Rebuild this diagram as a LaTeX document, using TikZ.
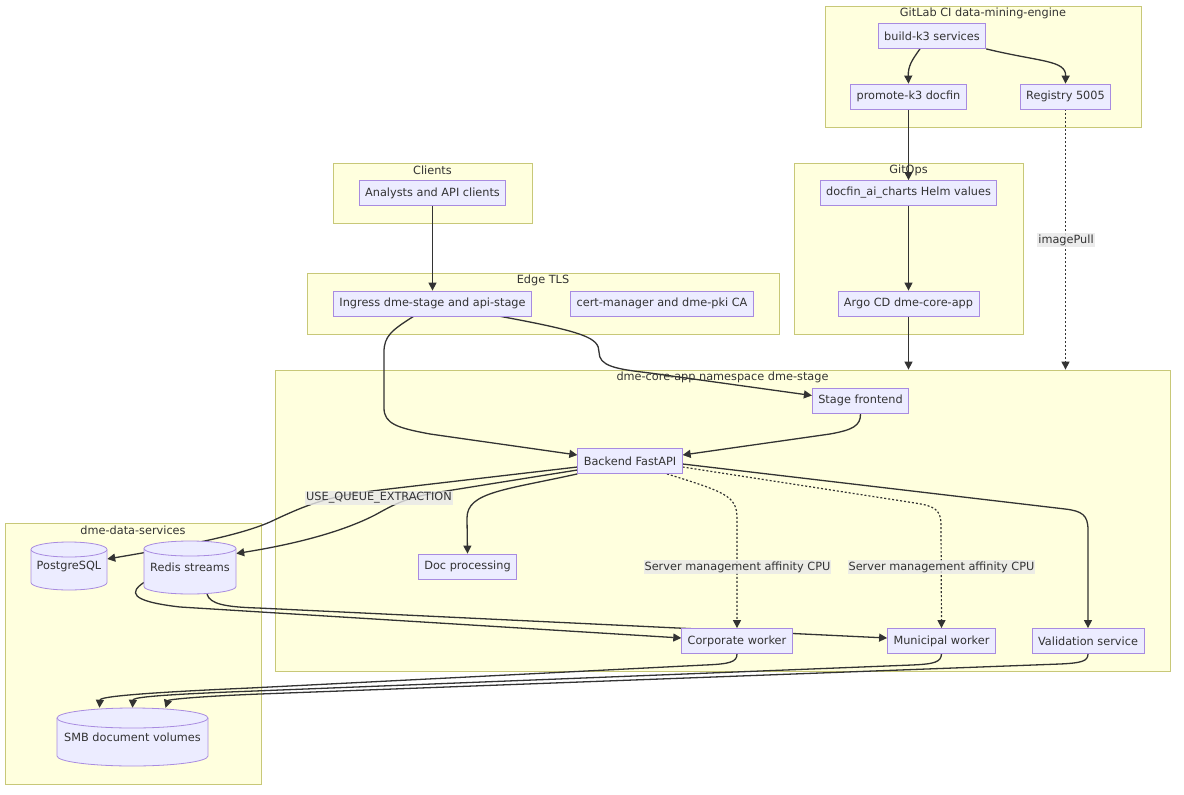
\documentclass[tikz,border=0pt]{standalone}
\usepackage{fontspec}
\setmainfont{DejaVu Sans}
\usetikzlibrary{arrows.meta}

\definecolor{nodefill}{HTML}{ECECFF}
\definecolor{nodeline}{HTML}{A88BE0}
\definecolor{clusterfill}{HTML}{FFFFDE}
\definecolor{clusterline}{HTML}{C8C878}
\definecolor{edgeline}{HTML}{333333}
\definecolor{textgray}{HTML}{333333}
\definecolor{labelfill}{HTML}{E8E8E8}

\pgfdeclarelayer{back}
\pgfdeclarelayer{edges}
\pgfsetlayers{back,edges,main}

\newcommand{\diagfont}{\fontsize{11.3}{13.5}\selectfont}

% cylinder store: name, x, top, bottom, half width, cap radius, text
\newcommand{\cylnode}[7]{%
  \filldraw[cylline] (#2-#5,#3+#6) -- (#2-#5,#4-#6)
    arc[start angle=180, end angle=0, x radius=#5, y radius=#6]
    -- (#2+#5,#3+#6)
    arc[start angle=0, end angle=-180, x radius=#5, y radius=#6] -- cycle;
  \draw[cylline] (#2-#5,#3+#6) arc[start angle=180, end angle=0, x radius=#5, y radius=#6];
  \node[dbbox, minimum width=2*#5pt, minimum height={(#4-#3)*1pt}] (#1) at (#2,{(#3+#4)/2}) {#7};
}

\begin{document}
\begin{tikzpicture}[x=1pt, y=-1pt,
  svc/.style={draw=nodeline, fill=nodefill, line width=0.8pt, minimum height=25pt,
    inner xsep=6pt, inner ysep=0pt, text=textgray, font=\diagfont},
  cylline/.style={draw=nodeline, fill=nodefill, line width=0.8pt},
  dbbox/.style={inner sep=0pt, text=textgray, font=\diagfont},
  cluster/.style={draw=clusterline, fill=clusterfill, line width=0.8pt, inner sep=0pt},
  ctitle/.style={inner sep=0pt, text=textgray, font=\diagfont},
  flow/.style={draw=edgeline, line width=1.3pt, -{Triangle[length=8pt,width=8pt]}},
  dotflow/.style={flow, line width=1.2pt, dash pattern=on 2pt off 2pt},
  elabel/.style={fill=labelfill, fill opacity=0.8, text opacity=1, inner xsep=1pt,
    inner ysep=1.5pt, text=textgray, font=\diagfont}]

  \useasboundingbox (0,0) rectangle (1184,795);

  % subgraph boxes
  \begin{pgfonlayer}{back}
    \fill[white] (0,0) rectangle (1184,795);
    \node[cluster, minimum width=316pt, minimum height=121pt] (gitlab) at (983,66.5) {};
    \node[cluster, minimum width=199pt, minimum height=60pt] (clients) at (432.5,193) {};
    \node[cluster, minimum width=229pt, minimum height=171pt] (gitops) at (908.5,248.5) {};
    \node[cluster, minimum width=472pt, minimum height=61pt] (edgetls) at (543,303.5) {};
    \node[cluster, minimum width=895pt, minimum height=301pt] (core) at (722.5,520.5) {};
    \node[cluster, minimum width=256pt, minimum height=261pt] (data) at (133,653.5) {};

    \node[ctitle] (gitlabtitle) at (983,13) {GitLab CI data-mining-engine};
    \node[ctitle] (clientstitle) at (432.5,170) {Clients};
    \node[ctitle] (gitopstitle) at (908.5,170) {GitOps};
    \node[ctitle] (edgetitle) at (543,280) {Edge TLS};
    \node[ctitle] (coretitle) at (722.5,377) {dme-core-app namespace dme-stage};
    \node[ctitle] (datatitle) at (133,530) {dme-data-services};
  \end{pgfonlayer}

  % services
  \node[svc] (build) at (932,36) {build-k3 services};
  \node[svc] (promote) at (908.5,96.5) {promote-k3 docfin};
  \node[svc] (registry) at (1065.5,96.5) {Registry 5005};
  \node[svc] (analysts) at (432.5,193) {Analysts and API clients};
  \node[svc] (docfin) at (908.5,193) {docfin\_ai\_charts Helm values};
  \node[svc] (argo) at (908.5,303.5) {Argo CD dme-core-app};
  \node[svc] (ingress) at (432.5,303.5) {Ingress dme-stage and api-stage};
  \node[svc] (certmgr) at (662,303.5) {cert-manager and dme-pki CA};
  \node[svc] (stage) at (860.5,400.5) {Stage frontend};
  \node[svc] (backend) at (630,461) {Backend FastAPI};
  \node[svc] (docproc) at (467.5,566.5) {Doc processing};
  \node[svc] (corporate) at (737,641) {Corporate worker};
  \node[svc] (municipal) at (941.5,641) {Municipal worker};
  \node[svc] (validation) at (1088,641) {Validation service};

  % stores
  \cylnode{postgres}{69}{542}{590}{38}{7.5}{PostgreSQL}
  \cylnode{redis}{190}{541}{594}{46}{7.5}{Redis streams}
  \cylnode{smb}{132.5}{708}{766}{75.5}{10}{SMB document volumes}

  \begin{pgfonlayer}{edges}
    % pipeline
    \draw[flow] ([xshift=-12pt]build.south) .. controls (912,60) and (908,66) .. (promote.north);
    \draw[flow] (build.south east) .. controls (1040,62) and (1066,60) .. (registry.north);
    \draw[flow] (promote) -- (docfin);
    \draw[dotflow] (registry.south) -- (registry.south |- core.north);
    \draw[flow] (docfin) -- (argo);
    \draw[flow] (argo.south) -- (argo.south |- core.north);

    % traffic
    \draw[flow] (analysts) -- (ingress);
    \draw[flow] ([xshift=-19pt]ingress.south) .. controls (392,330) and (384,336) .. (384,352)
      -- (384,408) .. controls (384,424) and (398,428) .. (430,434) -- ([yshift=6pt]backend.west);
    \draw[flow] ([xshift=68pt]ingress.south) .. controls (585,332) and (599,338) .. (599,352)
      .. controls (599,366) and (615,369) .. (650,373) -- ([yshift=5pt]stage.west);
    \draw[flow] (stage.south) .. controls (861,426) and (852,430) .. (830,434) -- ([yshift=6pt]backend.east);

    % backend fan-out
    \draw[flow] ([yshift=-6pt]backend.west) -- (380,490) .. controls (330,496) and (310,503) .. (270,522)
      .. controls (240,535) and (190,545) .. ([yshift=7pt]postgres.east);
    \draw[flow] ([yshift=-9pt]backend.west) -- (440,492) .. controls (405,498) and (395,504) .. (375,515)
      .. controls (340,533) and (290,545) .. ([yshift=14pt]redis.east);
    \draw[flow] (backend.south west) .. controls (505,490) and (467,492) .. (467,518) -- (docproc.north);
    \draw[dotflow] ([xshift=37pt]backend.south) .. controls (725,492) and (737,496) .. (737,518) -- (corporate.north);
    \draw[dotflow] ([yshift=-6pt]backend.east) -- (915,503) .. controls (935,506) and (941,510) .. (941,525) -- (municipal.north);
    \draw[flow] ([yshift=-3pt]backend.east) -- (1065,509) .. controls (1082,511) and (1088,515) .. (1088,530) -- (validation.north);

    % queue consumers
    \draw[flow] ([yshift=-15pt]redis.west) .. controls (130,592) and (128,601) .. (180,607) -- ([yshift=3pt]corporate.west);
    \draw[flow] ([xshift=17pt]redis.south) .. controls (210,604) and (225,607) .. (258,608) -- ([yshift=3pt]municipal.west);

    % document volumes
    \draw[flow] (corporate.south) .. controls (737,662) and (730,664) .. (705,665)
      -- (250,688) .. controls (112,694) and (100,698) .. ([xshift=-33pt]smb.north);
    \draw[flow] (municipal.south) .. controls (941,662) and (935,664) .. (912,665)
      -- (255,691) .. controls (145,695) and (133,698) .. (smb.north);
    \draw[flow] (validation.south) .. controls (1088,661) and (1082,663) .. (1060,664)
      -- (260,694) .. controls (185,697) and (168,700) .. ([xshift=33pt]smb.north);
  \end{pgfonlayer}

  % edge labels
  \node[elabel] (pulllabel) at (1066,240) {imagePull};
  \node[elabel] (queuelabel) at (379,498) {USE\_QUEUE\_EXTRACTION};
  \node[elabel] (corplabel) at (737.5,567) {Server management affinity CPU};
  \node[elabel] (munilabel) at (941.5,567) {Server management affinity CPU};
\end{tikzpicture}
\end{document}
